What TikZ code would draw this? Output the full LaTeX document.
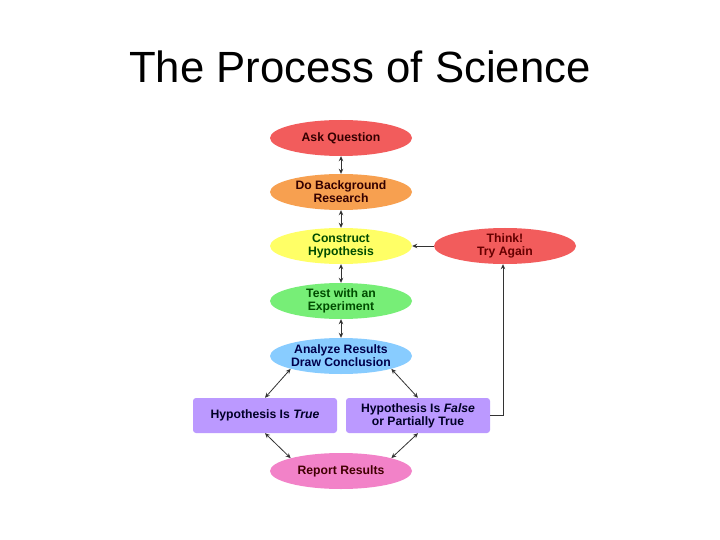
\documentclass[tikz,border=0pt]{standalone}
\usepackage{fontspec}
\setmainfont{Liberation Sans}
\usetikzlibrary{shapes.geometric,arrows.meta}
\definecolor{cRed}{HTML}{F25C5C}
\definecolor{cOrange}{HTML}{F7A050}
\definecolor{cYellow}{HTML}{FFFF66}
\definecolor{cGreen}{HTML}{77EE77}
\definecolor{cBlue}{HTML}{88CCFF}
\definecolor{cPurple}{HTML}{BB99FF}
\definecolor{cPink}{HTML}{F282C8}
\definecolor{cLine}{HTML}{333333}
\tikzset{
  oval/.style={ellipse, minimum width=142pt, minimum height=36pt, inner sep=0pt,
    align=center, font=\fontsize{12.2}{13}\selectfont\bfseries},
  box/.style={rectangle, rounded corners=3pt, minimum width=144pt, minimum height=35pt,
    inner sep=0pt, align=center, fill=cPurple, text=black!85!blue,
    font=\fontsize{12.2}{13}\selectfont\bfseries},
  dbl/.style={cLine, line width=0.8pt, {Stealth[length=5pt,width=4.5pt]}-{Stealth[length=5pt,width=4.5pt]}},
  sgl/.style={cLine, line width=0.8pt, -{Stealth[length=5pt,width=4.5pt]}}
}
\begin{document}
\begin{tikzpicture}[x=1pt,y=-1pt]
\useasboundingbox (0,0) rectangle (720,540);
\fill[white] (0,0) rectangle (720,540);
\node[anchor=base, font=\fontsize{43.7}{48}\selectfont] (title) at (360,83) {The Process of Science};
\node[oval, fill=cRed, text=black!80!red] (ask) at (341,138) {Ask Question};
\node[oval, fill=cOrange, text=black!80!red] (bg) at (341,192) {Do Background\\Research};
\node[oval, fill=cYellow, text=black!70!green] (hyp) at (341,246) {Construct\\Hypothesis};
\node[oval, fill=cRed, text=black!60!red] (think) at (505,246) {Think!\\Try Again};
\node[oval, fill=cGreen, text=black!70!green] (test) at (341,301) {Test with an\\Experiment};
\node[oval, fill=cBlue, text=black!70!blue] (an) at (341,356) {Analyze Results\\Draw Conclusion};
\node[box] (tru) at (265,415.5) {Hypothesis Is \textit{True}};
\node[box] (fal) at (418,415.5) {Hypothesis Is \textit{False}\\or Partially True};
\node[oval, fill=cPink, text=black!75!red] (rep) at (341,471) {Report Results};
\coordinate (corner) at (503,415.5);
\draw[dbl] (ask) -- (bg);
\draw[dbl] (bg) -- (hyp);
\draw[dbl] (hyp) -- (test);
\draw[dbl] (test) -- (an);
\draw[dbl] (an.south west) -- (tru.north);
\draw[dbl] (an.south east) -- (fal.north);
\draw[dbl] (tru.south) -- (rep.north west);
\draw[dbl] (fal.south) -- (rep.north east);
\draw[sgl] (think) -- (hyp);
\draw[sgl] (fal.east) -- (corner) -- (think.south -| corner);
\end{tikzpicture}
\end{document}
